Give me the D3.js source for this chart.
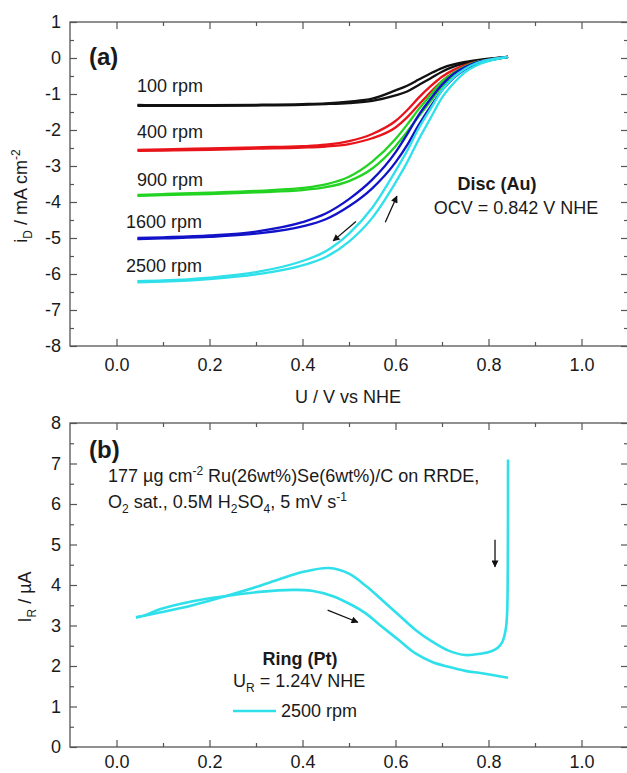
<!DOCTYPE html>
<html>
<head>
<meta charset="utf-8">
<script src="https://cdn.jsdelivr.net/npm/d3@7"></script>
<style>
  html, body { margin: 0; padding: 0; background: #fff; }
  svg { display: block; font-family: "Liberation Sans", Arial, sans-serif; }
  .tick text { font-size: 18px; fill: #1a1a1a; }
  .tick line { stroke: #555; stroke-width: 1.2; }
</style>
</head>
<body>
<svg id="chart" width="627" height="773"></svg>
<script>
// ---- Disc currents (panel a): potential grid and both sweep directions per rotation rate ----
const discPotential = [0.045, 0.1, 0.2, 0.3, 0.4, 0.45, 0.5, 0.55, 0.6, 0.625, 0.65, 0.675, 0.7, 0.725, 0.75, 0.775, 0.8, 0.842];

const disc100Down  = [-1.33, -1.33, -1.33, -1.32, -1.30, -1.28, -1.25, -1.19, -1.04, -0.93, -0.75, -0.57, -0.38, -0.24, -0.15, -0.08, -0.03, 0.03];
const disc100Up    = [-1.30, -1.31, -1.31, -1.30, -1.28, -1.26, -1.21, -1.13, -0.90, -0.77, -0.60, -0.43, -0.28, -0.18, -0.11, -0.06, -0.02, 0.03];
const disc400Down  = [-2.58, -2.57, -2.55, -2.52, -2.49, -2.46, -2.39, -2.23, -1.93, -1.65, -1.30, -0.95, -0.64, -0.41, -0.25, -0.14, -0.07, 0.03];
const disc400Up    = [-2.55, -2.54, -2.51, -2.48, -2.45, -2.41, -2.31, -2.11, -1.75, -1.45, -1.10, -0.79, -0.52, -0.33, -0.20, -0.11, -0.05, 0.03];
const disc900Down  = [-3.83, -3.81, -3.78, -3.73, -3.67, -3.59, -3.42, -3.07, -2.45, -2.05, -1.62, -1.21, -0.79, -0.51, -0.30, -0.16, -0.07, 0.03];
const disc900Up    = [-3.80, -3.78, -3.74, -3.69, -3.61, -3.51, -3.30, -2.88, -2.25, -1.85, -1.42, -1.03, -0.65, -0.41, -0.23, -0.11, -0.05, 0.03];
const disc1600Down = [-5.03, -5.01, -4.97, -4.88, -4.68, -4.48, -4.12, -3.62, -2.90, -2.42, -1.86, -1.36, -0.90, -0.55, -0.31, -0.16, -0.07, 0.03];
const disc1600Up   = [-5.00, -4.98, -4.93, -4.82, -4.56, -4.32, -3.92, -3.38, -2.62, -2.12, -1.58, -1.14, -0.74, -0.44, -0.25, -0.12, -0.05, 0.03];
const disc2500Down = [-6.23, -6.21, -6.14, -6.01, -5.76, -5.53, -5.10, -4.44, -3.46, -2.90, -2.26, -1.68, -1.10, -0.70, -0.39, -0.20, -0.09, 0.03];
const disc2500Up   = [-6.20, -6.18, -6.10, -5.95, -5.64, -5.37, -4.88, -4.16, -3.14, -2.58, -1.95, -1.42, -0.90, -0.54, -0.30, -0.14, -0.05, 0.03];

const rpmLabels = ["100 rpm", "400 rpm", "900 rpm", "1600 rpm", "2500 rpm"];
const rpmColors = ["#111111", "#e8141a", "#22d322", "#1212c8", "#2fe0ea"];

// ---- Ring current (panel b), 2500 rpm: cathodic sweep from OCV, then anodic return ----
const ringCathodicU = [0.842, 0.8415, 0.840, 0.837, 0.830, 0.820, 0.805, 0.786, 0.75, 0.714, 0.679, 0.643, 0.607, 0.571, 0.536, 0.5, 0.457, 0.4, 0.35, 0.3, 0.236, 0.164, 0.093, 0.06, 0.042];
const ringCathodicI = [7.10, 4.50, 3.30, 2.90, 2.60, 2.45, 2.36, 2.31, 2.27, 2.38, 2.60, 2.89, 3.26, 3.63, 3.98, 4.28, 4.42, 4.32, 4.14, 3.95, 3.73, 3.50, 3.32, 3.24, 3.20];
const ringAnodicU   = [0.042, 0.06, 0.093, 0.164, 0.236, 0.307, 0.379, 0.42, 0.464, 0.507, 0.536, 0.571, 0.607, 0.643, 0.679, 0.714, 0.75, 0.786, 0.842];
const ringAnodicI   = [3.20, 3.25, 3.40, 3.60, 3.73, 3.83, 3.88, 3.86, 3.73, 3.50, 3.30, 2.97, 2.64, 2.31, 2.10, 1.98, 1.88, 1.82, 1.71];

// ---- Axis ticks ----
const xMajor = [0.0, 0.2, 0.4, 0.6, 0.8, 1.0];
const xMinor = [0.1, 0.3, 0.5, 0.7, 0.9];
const yMajorA = [-8, -7, -6, -5, -4, -3, -2, -1, 0, 1];
const yMinorA = [-7.5, -6.5, -5.5, -4.5, -3.5, -2.5, -1.5, -0.5, 0.5];
const yMajorB = [0, 1, 2, 3, 4, 5, 6, 7, 8];
const yMinorB = [0.5, 1.5, 2.5, 3.5, 4.5, 5.5, 6.5, 7.5];

const svg = d3.select("#chart");

const x = d3.scaleLinear().domain([-0.1, 1.1]).range([70, 628]);
const yA = d3.scaleLinear().domain([-8, 1]).range([346, 22]);
const yB = d3.scaleLinear().domain([0, 8]).range([747, 423]);

// arrowhead used by the sweep-direction arrows
svg.append("defs").append("marker")
  .attr("id", "head")
  .attr("viewBox", "0 0 10 10")
  .attr("refX", 9).attr("refY", 5)
  .attr("markerUnits", "userSpaceOnUse")
  .attr("markerWidth", 9).attr("markerHeight", 7)
  .attr("orient", "auto")
  .append("path").attr("d", "M0,0 L10,5 L0,10 z").attr("fill", "#111");

function drawFrame(y, yMajor, yMinor, padBottom) {
  const [x0, x1] = x.range();
  const [yb, yt] = y.range();
  const fmtX = d3.format(".1f");
  // bottom
  svg.append("g").attr("transform", `translate(0,${yb})`)
    .call(d3.axisBottom(x).tickValues(xMajor).tickSize(-7).tickPadding(padBottom).tickFormat(fmtX))
    .call(g => g.select(".domain").remove());
  svg.append("g").attr("transform", `translate(0,${yb})`)
    .call(d3.axisBottom(x).tickValues(xMinor).tickSize(-4).tickFormat(""))
    .call(g => g.select(".domain").remove());
  // top
  svg.append("g").attr("transform", `translate(0,${yt})`)
    .call(d3.axisTop(x).tickValues(xMajor).tickSize(-7).tickFormat(""))
    .call(g => g.select(".domain").remove());
  svg.append("g").attr("transform", `translate(0,${yt})`)
    .call(d3.axisTop(x).tickValues(xMinor).tickSize(-4).tickFormat(""))
    .call(g => g.select(".domain").remove());
  // left
  svg.append("g").attr("transform", `translate(${x0},0)`)
    .call(d3.axisLeft(y).tickValues(yMajor).tickSize(-7).tickPadding(9).tickFormat(d3.format("d")))
    .call(g => g.select(".domain").remove());
  svg.append("g").attr("transform", `translate(${x0},0)`)
    .call(d3.axisLeft(y).tickValues(yMinor).tickSize(-4).tickFormat(""))
    .call(g => g.select(".domain").remove());
  // right
  svg.append("g").attr("transform", `translate(${x1},0)`)
    .call(d3.axisRight(y).tickValues(yMajor).tickSize(-7).tickFormat(""))
    .call(g => g.select(".domain").remove());
  svg.append("g").attr("transform", `translate(${x1},0)`)
    .call(d3.axisRight(y).tickValues(yMinor).tickSize(-4).tickFormat(""))
    .call(g => g.select(".domain").remove());
  svg.append("rect")
    .attr("x", x0).attr("y", yt).attr("width", x1 - x0).attr("height", yb - yt)
    .attr("fill", "none").attr("stroke", "#555").attr("stroke-width", 1.3);
}

// minus signs as plain hyphens like the tick labels of the original plot
function hyphenTicks() {
  svg.selectAll(".tick text").text(function () { return d3.select(this).text().replace("\u2212", "-"); });
}

// ================= Panel (a): disc currents =================
drawFrame(yA, yMajorA, yMinorA, 12);

const discSeries = [
  [disc100Down, disc100Up], [disc400Down, disc400Up], [disc900Down, disc900Up],
  [disc1600Down, disc1600Up], [disc2500Down, disc2500Up]
];
const discLine = d3.line().x(d => x(d[0])).y(d => yA(d[1])).curve(d3.curveMonotoneX);

discSeries.forEach((sweeps, k) => {
  sweeps.forEach(vals => {
    svg.append("path")
      .datum(discPotential.map((u, i) => [u, vals[i]]))
      .attr("d", discLine)
      .attr("fill", "none")
      .attr("stroke", rpmColors[k])
      .attr("stroke-width", 2.3)
      .attr("stroke-linejoin", "round");
  });
});

// rotation-rate labels above each plateau
const rpmLabelPos = [[137, 92], [137, 138], [137, 186], [126, 228], [126, 272]];
rpmLabels.forEach((t, k) => {
  svg.append("text").attr("x", rpmLabelPos[k][0]).attr("y", rpmLabelPos[k][1])
    .attr("font-size", 18).attr("fill", "#1a1a1a").text(t);
});

svg.append("text").attr("x", 89).attr("y", 65).attr("font-size", 24)
  .attr("font-weight", "bold").attr("fill", "#1a1a1a").text("(a)");
svg.append("text").attr("x", 497).attr("y", 190).attr("font-size", 18)
  .attr("font-weight", "bold").attr("fill", "#1a1a1a").attr("text-anchor", "middle").text("Disc (Au)");
svg.append("text").attr("x", 516).attr("y", 214).attr("font-size", 18)
  .attr("fill", "#1a1a1a").attr("text-anchor", "middle").text("OCV = 0.842 V NHE");

// sweep-direction arrows
function arrow(y, u0, v0, u1, v1) {
  svg.append("line")
    .attr("x1", x(u0)).attr("y1", y(v0)).attr("x2", x(u1)).attr("y2", y(v1))
    .attr("stroke", "#111").attr("stroke-width", 1.3)
    .attr("marker-end", "url(#head)");
}
arrow(yA, 0.515, -4.54, 0.466, -5.08);
arrow(yA, 0.578, -4.56, 0.603, -3.84);

// axis titles
svg.append("text").attr("x", 348).attr("y", 403).attr("font-size", 18)
  .attr("fill", "#1a1a1a").attr("text-anchor", "middle").text("U / V vs NHE");

const yTitleA = svg.append("text")
  .attr("transform", "translate(27,196) rotate(-90)")
  .attr("font-size", 18).attr("fill", "#1a1a1a").attr("text-anchor", "middle");
yTitleA.append("tspan").text("i");
yTitleA.append("tspan").attr("font-size", 12).attr("dy", 5).text("D");
yTitleA.append("tspan").attr("dy", -5).text(" / mA cm");
yTitleA.append("tspan").attr("font-size", 12).attr("dy", -7).text("-2");

// ================= Panel (b): ring current =================
drawFrame(yB, yMajorB, yMinorB, 8);

const ringLine = d3.line().x(d => x(d[0])).y(d => yB(d[1])).curve(d3.curveCatmullRom.alpha(0.5));
const ringCyan = "#2fe0ea";
svg.append("path")
  .datum(ringCathodicU.map((u, i) => [u, ringCathodicI[i]]))
  .attr("d", ringLine).attr("fill", "none").attr("stroke", ringCyan).attr("stroke-width", 2.6);
svg.append("path")
  .datum(ringAnodicU.map((u, i) => [u, ringAnodicI[i]]))
  .attr("d", ringLine).attr("fill", "none").attr("stroke", ringCyan).attr("stroke-width", 2.6);

arrow(yB, 0.454, 3.38, 0.519, 3.08);
arrow(yB, 0.814, 5.12, 0.814, 4.45);

svg.append("text").attr("x", 89).attr("y", 458).attr("font-size", 24)
  .attr("font-weight", "bold").attr("fill", "#1a1a1a").text("(b)");

const info1 = svg.append("text").attr("x", 108).attr("y", 482).attr("font-size", 18).attr("fill", "#1a1a1a");
info1.append("tspan").text("177 \u00b5g cm");
info1.append("tspan").attr("font-size", 12).attr("dy", -7).text("-2");
info1.append("tspan").attr("dy", 7).text(" Ru(26wt%)Se(6wt%)/C on RRDE,");

const info2 = svg.append("text").attr("x", 108).attr("y", 508).attr("font-size", 18).attr("fill", "#1a1a1a");
info2.append("tspan").text("O");
info2.append("tspan").attr("font-size", 12).attr("dy", 5).text("2");
info2.append("tspan").attr("dy", -5).text(" sat., 0.5M H");
info2.append("tspan").attr("font-size", 12).attr("dy", 5).text("2");
info2.append("tspan").attr("dy", -5).text("SO");
info2.append("tspan").attr("font-size", 12).attr("dy", 5).text("4");
info2.append("tspan").attr("dy", -5).text(", 5 mV s");
info2.append("tspan").attr("font-size", 12).attr("dy", -7).text("-1");

svg.append("text").attr("x", 300).attr("y", 665).attr("font-size", 18)
  .attr("font-weight", "bold").attr("fill", "#1a1a1a").attr("text-anchor", "middle").text("Ring (Pt)");
const ur = svg.append("text").attr("x", 233).attr("y", 687).attr("font-size", 18).attr("fill", "#1a1a1a");
ur.append("tspan").text("U");
ur.append("tspan").attr("font-size", 12).attr("dy", 5).text("R");
ur.append("tspan").attr("dy", -5).text(" = 1.24V NHE");

// legend
svg.append("line").attr("x1", 233).attr("x2", 276).attr("y1", 711).attr("y2", 711)
  .attr("stroke", ringCyan).attr("stroke-width", 2.6);
svg.append("text").attr("x", 281).attr("y", 717).attr("font-size", 18).attr("fill", "#1a1a1a").text("2500 rpm");

const yTitleB = svg.append("text")
  .attr("transform", "translate(31,597) rotate(-90)")
  .attr("font-size", 18).attr("fill", "#1a1a1a").attr("text-anchor", "middle");
yTitleB.append("tspan").text("I");
yTitleB.append("tspan").attr("font-size", 12).attr("dy", 5).text("R");
yTitleB.append("tspan").attr("dy", -5).text(" / \u00b5A");

hyphenTicks();
</script>
</body>
</html>
